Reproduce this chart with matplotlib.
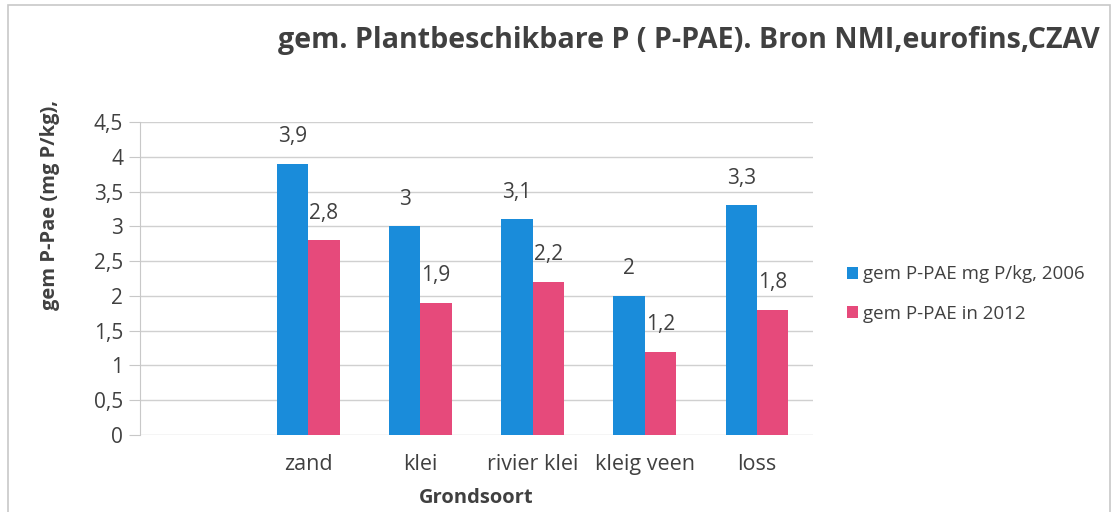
import matplotlib
matplotlib.use('Agg')
import matplotlib.pyplot as plt
import numpy as np

categories = ['', 'zand', 'klei', 'rivier klei', 'kleig veen', 'loss']
p2006 = [np.nan, 3.9, 3.0, 3.1, 2.0, 3.3]
p2012 = [np.nan, 2.8, 1.9, 2.2, 1.2, 1.8]
labels2006 = ['', '3,9', '3', '3,1', '2', '3,3']
labels2012 = ['', '2,8', '1,9', '2,2', '1,2', '1,8']
yticks = [0, 0.5, 1, 1.5, 2, 2.5, 3, 3.5, 4, 4.5]
ytick_labels = ['0', '0,5', '1', '1,5', '2', '2,5', '3', '3,5', '4', '4,5']

plt.rcParams['font.family'] = ['Open Sans', 'DejaVu Sans']
blue = '#1a8cda'
pink = '#e64a7b'
txt = '#404040'

fig = plt.figure(figsize=(11.14, 5.12), dpi=100)
ax = fig.add_axes([0.1257, 0.1504, 0.6041, 0.6113])

x = np.arange(len(categories))
w = 0.28
b1 = ax.bar(x - w / 2, p2006, w, color=blue, label='gem P-PAE mg P/kg, 2006', zorder=3)
b2 = ax.bar(x + w / 2, p2012, w, color=pink, label='gem P-PAE in 2012', zorder=3)
ax.bar_label(b1, labels=labels2006, padding=12, fontsize=15, color=txt)
ax.bar_label(b2, labels=labels2012, padding=12, fontsize=15, color=txt)

ax.set_xlim(-0.5, len(categories) - 0.5)
ax.set_ylim(0, 4.5)
ax.set_yticks(yticks)
ax.set_yticklabels(ytick_labels, fontsize=15, color=txt)
ax.set_xticks(x)
ax.set_xticklabels(categories, fontsize=15.5, color=txt)
ax.tick_params(axis='x', length=0, pad=14)
ax.tick_params(axis='y', length=8, color='#c8c8c8', pad=4)
ax.grid(axis='y', color='#d0d0d0', linewidth=1, zorder=0)
for s in ['top', 'right', 'bottom']:
    ax.spines[s].set_visible(False)
ax.spines['left'].set_color('#c8c8c8')

ax.set_xlabel('Grondsoort', fontsize=14.5, fontweight='bold', color=txt, labelpad=9)
fig.text(0.045, 0.60, 'gem P-Pae (mg P/kg),', rotation=90, fontsize=14.5,
         fontweight='bold', color=txt, ha='center', va='center')

fig.text(0.987, 0.92, 'gem. Plantbeschikbare P ( P-PAE). Bron NMI,eurofins,CZAV',
         fontsize=20.6, fontweight='bold', color=txt, ha='right', va='center')

ax.legend(loc='center left', bbox_to_anchor=(1.025, 0.45), frameon=False,
          fontsize=13.5, handlelength=0.6, handleheight=0.6, handletextpad=0.25,
          labelspacing=1.15, labelcolor=txt)

fig.add_artist(plt.Rectangle((0.007, -0.1), 0.989, 1.09, transform=fig.transFigure,
                             fill=False, edgecolor='#c8c8c8', linewidth=1.2))

fig.savefig('out.png', dpi=100)
